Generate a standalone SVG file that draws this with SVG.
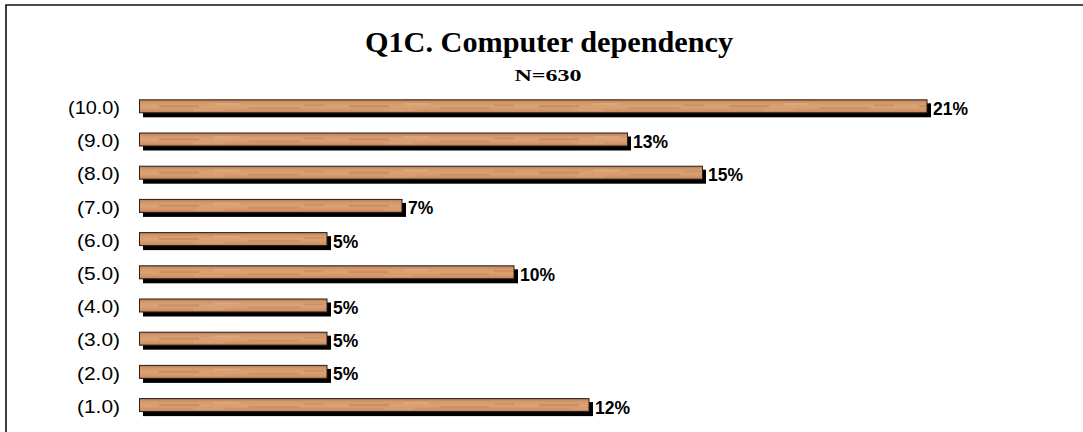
<svg xmlns="http://www.w3.org/2000/svg" width="1083" height="432" viewBox="0 0 1083 432">
<defs>
<linearGradient id="wg" x1="0" y1="0" x2="0" y2="1">
<stop offset="0" stop-color="#b07650"/>
<stop offset="0.25" stop-color="#d49a6e"/>
<stop offset="0.55" stop-color="#dba274"/>
<stop offset="0.85" stop-color="#cf9066"/>
<stop offset="1" stop-color="#a86e48"/>
</linearGradient>
<pattern id="wood" patternUnits="userSpaceOnUse" x="139" y="99.3" width="190" height="33.2">
<rect x="0" y="0" width="190" height="14" fill="url(#wg)"/>
<rect x="20" y="6" width="40" height="2" fill="#a8683e" opacity="0.35"/>
<rect x="75" y="4" width="25" height="1.5" fill="#f0c098" opacity="0.4"/>
<rect x="110" y="8" width="50" height="1.5" fill="#a8683e" opacity="0.3"/>
<rect x="165" y="5" width="20" height="2" fill="#b07046" opacity="0.3"/>
<rect x="55" y="10" width="30" height="1.5" fill="#e8b890" opacity="0.35"/>
</pattern>
<style>
.sh{fill:#000}
.bar{fill:url(#wood);stroke:#2a1e16;stroke-width:1}
.cat{font-family:"Liberation Sans",Arial,sans-serif;font-size:18.5px;fill:#000;text-anchor:end}
.val{font-family:"Liberation Sans",Arial,sans-serif;font-size:17.5px;font-weight:bold;fill:#000}
.ttl{font-family:"Liberation Serif","Times New Roman",serif;font-weight:bold;fill:#000;text-anchor:middle}
</style>
</defs>
<rect width="1083" height="432" fill="#fff"/>
<path d="M6,440 V5 H1090" fill="none" stroke="#111" stroke-width="1.6"/>
<g id="title">
<text class="ttl" x="549" y="52" font-size="30" textLength="368" lengthAdjust="spacingAndGlyphs">Q1C. Computer dependency</text>
<text class="ttl" x="548" y="81" font-size="17" textLength="67" lengthAdjust="spacingAndGlyphs">N=630</text>
</g>
<g id="bar-10">
<rect class="sh" x="143" y="103.3" width="788" height="14"/>
<rect class="bar" x="139.5" y="99.8" width="787.5" height="13"/>
<text class="cat" x="120" y="114" textLength="52" lengthAdjust="spacingAndGlyphs">(10.0)</text>
<text class="val" x="933" y="114.8">21%</text>
</g>
<g id="bar-9">
<rect class="sh" x="143" y="136.5" width="488" height="14"/>
<rect class="bar" x="139.5" y="133" width="488" height="13"/>
<text class="cat" x="120" y="147.2" textLength="43" lengthAdjust="spacingAndGlyphs">(9.0)</text>
<text class="val" x="633" y="148">13%</text>
</g>
<g id="bar-8">
<rect class="sh" x="143" y="169.7" width="563" height="14"/>
<rect class="bar" x="139.5" y="166.2" width="563" height="13"/>
<text class="cat" x="120" y="180.4" textLength="43" lengthAdjust="spacingAndGlyphs">(8.0)</text>
<text class="val" x="708" y="181.2">15%</text>
</g>
<g id="bar-7">
<rect class="sh" x="143" y="202.9" width="263" height="14"/>
<rect class="bar" x="139.5" y="199.4" width="262.5" height="13"/>
<text class="cat" x="120" y="213.6" textLength="43" lengthAdjust="spacingAndGlyphs">(7.0)</text>
<text class="val" x="408" y="214.4">7%</text>
</g>
<g id="bar-6">
<rect class="sh" x="143" y="236.1" width="188" height="14"/>
<rect class="bar" x="139.5" y="232.6" width="187.5" height="13"/>
<text class="cat" x="120" y="246.8" textLength="43" lengthAdjust="spacingAndGlyphs">(6.0)</text>
<text class="val" x="333" y="247.6">5%</text>
</g>
<g id="bar-5">
<rect class="sh" x="143" y="269.3" width="375" height="14"/>
<rect class="bar" x="139.5" y="265.8" width="374.5" height="13"/>
<text class="cat" x="120" y="280" textLength="43" lengthAdjust="spacingAndGlyphs">(5.0)</text>
<text class="val" x="520" y="280.8">10%</text>
</g>
<g id="bar-4">
<rect class="sh" x="143" y="302.5" width="188" height="14"/>
<rect class="bar" x="139.5" y="299" width="187.5" height="13"/>
<text class="cat" x="120" y="313.2" textLength="43" lengthAdjust="spacingAndGlyphs">(4.0)</text>
<text class="val" x="333" y="314">5%</text>
</g>
<g id="bar-3">
<rect class="sh" x="143" y="335.7" width="188" height="14"/>
<rect class="bar" x="139.5" y="332.2" width="187.5" height="13"/>
<text class="cat" x="120" y="346.4" textLength="43" lengthAdjust="spacingAndGlyphs">(3.0)</text>
<text class="val" x="333" y="347.2">5%</text>
</g>
<g id="bar-2">
<rect class="sh" x="143" y="368.9" width="188" height="14"/>
<rect class="bar" x="139.5" y="365.4" width="187.5" height="13"/>
<text class="cat" x="120" y="379.6" textLength="43" lengthAdjust="spacingAndGlyphs">(2.0)</text>
<text class="val" x="333" y="380.4">5%</text>
</g>
<g id="bar-1">
<rect class="sh" x="143" y="402.1" width="450" height="14"/>
<rect class="bar" x="139.5" y="398.6" width="449.5" height="13"/>
<text class="cat" x="120" y="412.8" textLength="43" lengthAdjust="spacingAndGlyphs">(1.0)</text>
<text class="val" x="595" y="413.6">12%</text>
</g>
</svg>
